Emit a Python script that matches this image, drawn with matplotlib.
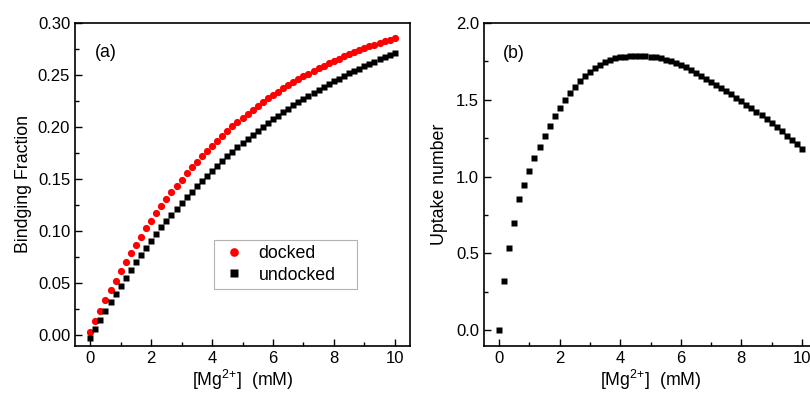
import numpy as np
import matplotlib.pyplot as plt
from matplotlib.ticker import MultipleLocator, FormatStrFormatter

plt.rcParams['font.family'] = ['Liberation Sans', 'DejaVu Sans']
plt.rcParams['mathtext.fontset'] = 'custom'
plt.rcParams['mathtext.rm'] = 'Liberation Sans'

# [Mg2+] grid (mM), 61 points 0..10
mg = np.linspace(0, 10, 61)

docked = [0.003, 0.0133, 0.0236, 0.0335, 0.0432, 0.0525, 0.0615, 0.0703, 0.0787, 0.0869,
          0.0948, 0.1025, 0.1099, 0.1170, 0.1240, 0.1307, 0.1372, 0.1434, 0.1495, 0.1554,
          0.1611, 0.1666, 0.1719, 0.1771, 0.1820, 0.1869, 0.1915, 0.1960, 0.2004, 0.2046,
          0.2087, 0.2127, 0.2165, 0.2202, 0.2238, 0.2273, 0.2306, 0.2339, 0.2370, 0.2400,
          0.2430, 0.2458, 0.2486, 0.2512, 0.2538, 0.2563, 0.2587, 0.2611, 0.2633, 0.2655,
          0.2676, 0.2697, 0.2716, 0.2735, 0.2754, 0.2772, 0.2789, 0.2806, 0.2822, 0.2838,
          0.2853]

undocked = [-0.0026, 0.0063, 0.0150, 0.0235, 0.0317, 0.0398, 0.0477, 0.0554, 0.0629, 0.0701,
            0.0773, 0.0842, 0.0909, 0.0974, 0.1037, 0.1098, 0.1158, 0.1216, 0.1272, 0.1326,
            0.1379, 0.1431, 0.1482, 0.1531, 0.1578, 0.1625, 0.1671, 0.1716, 0.1760, 0.1803,
            0.1844, 0.1885, 0.1925, 0.1963, 0.2001, 0.2038, 0.2074, 0.2109, 0.2143, 0.2176,
            0.2208, 0.2240, 0.2270, 0.2300, 0.2329, 0.2358, 0.2385, 0.2412, 0.2438, 0.2464,
            0.2489, 0.2513, 0.2537, 0.2560, 0.2583, 0.2604, 0.2626, 0.2647, 0.2667, 0.2687,
            0.2706]

uptake = [0.000, 0.319, 0.538, 0.700, 0.853, 0.948, 1.037, 1.119, 1.195, 1.266,
          1.330, 1.391, 1.446, 1.496, 1.540, 1.582, 1.620, 1.652, 1.681, 1.707,
          1.728, 1.745, 1.758, 1.768, 1.775, 1.779, 1.782, 1.783, 1.783, 1.782,
          1.779, 1.774, 1.768, 1.760, 1.750, 1.738, 1.725, 1.709, 1.693, 1.675,
          1.655, 1.635, 1.615, 1.596, 1.576, 1.555, 1.534, 1.513, 1.491, 1.468,
          1.445, 1.421, 1.397, 1.372, 1.346, 1.320, 1.293, 1.266, 1.238, 1.209,
          1.180]

xlabel = r'[Mg$^{\mathregular{2{+}}}$]  (mM)'

fig = plt.figure(figsize=(8.1, 3.94), dpi=100)
ax1 = fig.add_axes([75/810, 1-345.7/394, 335/810, 323/394])
ax2 = fig.add_axes([484/810, 1-345.7/394, 333/810, 323/394])


def style(ax):
    ax.tick_params(which='both', direction='in', top=False, right=False,
                   labelsize=12, width=1)
    ax.tick_params(which='major', length=5)
    ax.tick_params(which='minor', length=3)
    for s in ax.spines.values():
        s.set_linewidth(1.2)
    ax.set_xlim(-0.5, 10.5)
    ax.xaxis.set_major_locator(MultipleLocator(2))
    ax.xaxis.set_minor_locator(MultipleLocator(1))
    ax.set_xlabel(xlabel, fontsize=12.8, labelpad=2)


# (a) binding fraction
ax1.plot(mg, docked, 'o', color='#ff0000', ms=5.2, mec='none', label='docked')
ax1.plot(mg, undocked, 's', color='black', ms=4.6, mec='none', label='undocked')
style(ax1)
ax1.set_ylim(-0.01, 0.30)
ax1.yaxis.set_major_locator(MultipleLocator(0.05))
ax1.yaxis.set_minor_locator(MultipleLocator(0.025))
ax1.yaxis.set_major_formatter(FormatStrFormatter('%.2f'))
ax1.set_ylabel('Bindging Fraction', fontsize=12.8, labelpad=4)
ax1.text(0.06, 0.909, '(a)', transform=ax1.transAxes, fontsize=12.8, va='center')
leg = ax1.legend(loc='lower left', bbox_to_anchor=(0.415, 0.1755, 0.427, 0.148),
                 mode='expand', numpoints=1, fontsize=12.8, fancybox=False,
                 borderaxespad=0, handletextpad=0.6, labelspacing=0.25,
                 borderpad=0.3, handlelength=1.6, markerscale=1.2)
leg.get_frame().set_edgecolor('#a0a0a0')
leg.get_frame().set_linewidth(0.8)

# (b) uptake number
ax2.plot(mg, uptake, 's', color='black', ms=4.8, mec='none')
style(ax2)
ax2.set_ylim(-0.1, 2.0)
ax2.yaxis.set_major_locator(MultipleLocator(0.5))
ax2.yaxis.set_minor_locator(MultipleLocator(0.25))
ax2.yaxis.set_major_formatter(FormatStrFormatter('%.1f'))
ax2.set_ylabel('Uptake number', fontsize=12.8, labelpad=6)
ax2.text(0.056, 0.906, '(b)', transform=ax2.transAxes, fontsize=12.8, va='center')

fig.savefig('out.png', dpi=100)
